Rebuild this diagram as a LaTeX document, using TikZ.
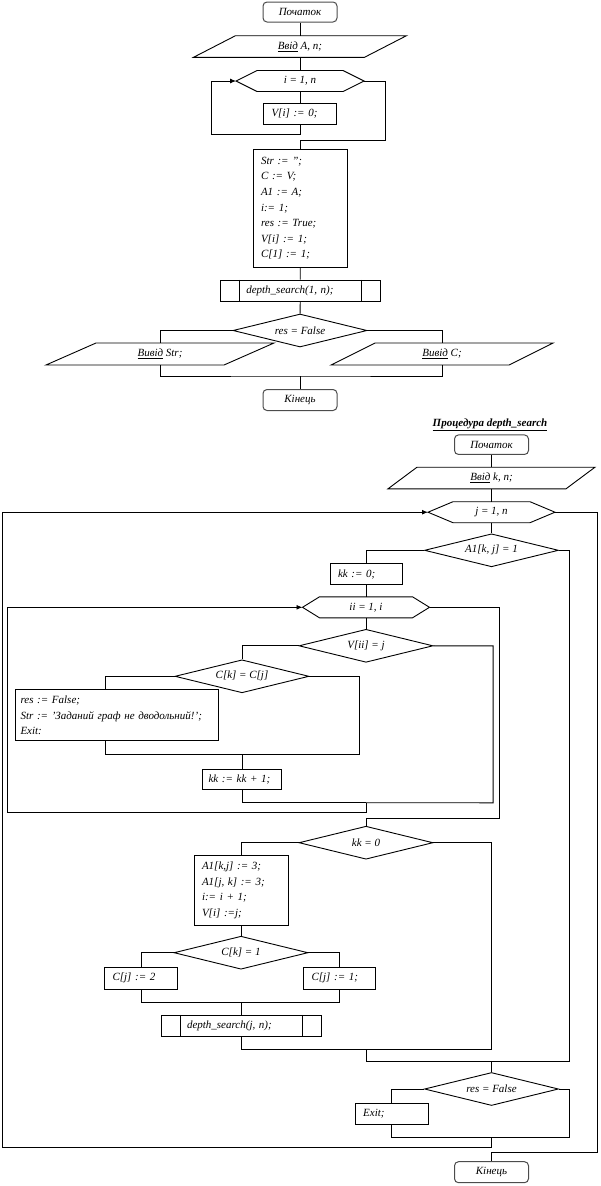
\documentclass[tikz,border=0pt]{standalone}
\usepackage{fontspec}
\setmainfont{Liberation Serif}
\usepackage{tikz}
\usetikzlibrary{positioning,shapes.geometric,arrows.meta,calc}

\newcommand{\chartfont}{\fontsize{11}{15.6}\selectfont\itshape}

\tikzset{
    flow/.style={draw, line width=0.9pt},
    arrow/.style={flow, -{Latex[length=6pt, width=5pt]}},
    term/.style={rectangle, draw=black!70, line width=1pt, rounded corners=4pt, minimum width=74pt, minimum height=20pt, inner sep=0pt, font=\chartfont},
    procbox/.style={rectangle, draw, line width=0.9pt, text width=#1, align=left, inner xsep=8pt, inner ysep=0pt, minimum height=21pt, font=\chartfont},
    callbox/.style={rectangle, draw, line width=0.9pt, minimum width=160pt, minimum height=21.7pt, inner ysep=0pt, inner xsep=26pt, text width=108pt, align=left, font=\chartfont,
        path picture={\draw[line width=0.9pt] ([xshift=19pt]path picture bounding box.north west) -- ([xshift=19pt]path picture bounding box.south west)
            ([xshift=-19pt]path picture bounding box.north east) -- ([xshift=-19pt]path picture bounding box.south east);}},
    cond/.style={diamond, draw, line width=0.9pt, aspect=4, minimum width=134pt, minimum height=33pt, inner sep=0pt, font=\chartfont},
    iobox/.style={rectangle, minimum width=#1, minimum height=21.6pt, inner sep=0pt, outer sep=0pt, font=\chartfont},
    loophead/.style={rectangle, minimum width=#1, minimum height=21pt, inner sep=0pt, outer sep=0pt, font=\chartfont}
}

% parallelogram round a node: name, half of the slant
\newcommand{\ioframe}[2]{%
  \draw[flow] ([xshift=#2]#1.north west) -- ([xshift=#2]#1.north east)
    -- ([xshift=-#2]#1.south east) -- ([xshift=-#2]#1.south west) -- cycle;}
% hexagon of a loop head: name, slant
\newcommand{\loopframe}[2]{%
  \draw[flow] ([xshift=-#2]#1.west) coordinate (#1-in) -- (#1.north west)
    -- (#1.north east) -- ([xshift=#2]#1.east) coordinate (#1-out)
    -- (#1.south east) -- (#1.south west) -- cycle;}

\begin{document}
\begin{tikzpicture}[x=1pt, y=-1pt]
\useasboundingbox (0,0) rectangle (600,1186);

% Main program
\node[term] (start1) at (300,12) {Початок};
\node[iobox=171pt] (in1) at (300,46.5) {\underline{Ввід} A, n;};
\ioframe{in1}{21pt}
\node[loophead=86pt] (loop1) at (300,81) {i = 1, n};
\loopframe{loop1}{21pt}
\node[procbox=57pt] (vset) at (300,113.5) {V[i] := 0;};
\node[procbox=78pt, minimum height=118pt] (init) at (300,208.3) {Str := '';\\C := V;\\A1 := A;\\i:= 1;\\res := True;\\V[i] := 1;\\C[1] := 1;};
\node[callbox] (call1) at (300.3,290.8) {depth\_search(1, n);};
\node[cond] (dec1) at (300,330.5) {res = False};
\node[iobox=178pt, minimum height=22pt] (out1) at (160,354) {\underline{Вивід} Str;};
\ioframe{out1}{25pt}
\node[iobox=178pt, minimum height=22pt] (out2) at (442,354) {\underline{Вивід} C;};
\ioframe{out2}{22pt}
\node[term, minimum height=21pt] (end1) at (300,400) {Кінець};
\coordinate (m2) at (300,376);

\draw[flow] (start1) -- (in1);
\draw[flow] (in1) -- (loop1);
\draw[flow] (loop1) -- (vset);
\draw[arrow] (vset.south) -- ++(0,10) -| ([xshift=-25pt]loop1-in) -- (loop1-in);
\draw[flow] (loop1-out) -| ++(21,59) -| (init.north);
\draw[flow] (init) -- (call1);
\draw[flow] (call1) -- (dec1);
\draw[flow] (dec1.west) -| (out1.north);
\draw[flow] (dec1.east) -| (out2.north);
\draw[flow] (out1.south) |- (m2) -| (out2.south);
\draw[flow] (m2) -- (end1);

% Procedure depth_search
\node[font=\chartfont\bfseries] (title) at (490,425) {\underline{Процедура depth\_search}};
\node[term, minimum height=19.5pt] (start2) at (491.5,444.7) {Початок};
\node[iobox=178pt] (in2) at (491.5,478) {\underline{Ввід} k, n;};
\ioframe{in2}{14.5pt}
\node[loophead=77pt] (loop2) at (491.5,512.2) {j = 1, n};
\loopframe{loop2}{25pt}
\node[cond] (dec2) at (491.5,550.3) {A1[k, j] = 1};
\node[procbox=56pt] (kk0) at (366,574.2) {kk := 0;};
\node[loophead=93pt] (loop3) at (366,607.3) {ii = 1, i};
\loopframe{loop3}{17pt}
\node[cond] (dec3) at (366,645.8) {V[ii] = j};
\node[cond] (dec4) at (242,676.3) {C[k] = C[j]};
\node[procbox=193pt, inner xsep=5pt, minimum height=51pt] (blk2) at (117,715.3) {res := False;\\Str := 'Заданий граф не дводольний!';\\Exit:};
\node[procbox=67pt, inner xsep=6pt, minimum height=20pt] (kk1) at (242,779.3) {kk := kk + 1;};
\node[cond] (dec5) at (366,842.7) {kk = 0};
\node[procbox=78pt, minimum height=70pt] (blk3) at (241,890.2) {A1[k,j] := 3;\\A1[j, k] := 3;\\i:= i + 1;\\V[i] :=j;};
\node[cond] (dec6) at (241,952.7) {C[k] = 1};
\node[procbox=57pt, minimum height=22pt] (c2) at (141,978.3) {C[j] := 2};
\node[procbox=56pt, minimum height=22pt] (c1) at (339.5,978) {C[j] := 1;};
\node[callbox] (call2) at (241,1025.8) {depth\_search(j, n);};
\node[cond] (dec7) at (491.5,1089) {res = False};
\node[procbox=57pt] (exitbox) at (391.7,1113.7) {Exit;};
\node[term, minimum height=21pt] (end2) at (491.5,1172.2) {Кінець};

\coordinate (m3) at (366,802.7);
\coordinate (m4) at (242,754);
\coordinate (m6) at (241,1002.3);
\coordinate (m7) at (366,1049.3);
\coordinate (m8) at (491.5,1061);
\coordinate (m9) at (491.5,1137.7);

\draw[flow] (start2) -- (in2);
\draw[flow] (in2) -- (loop2);
\draw[flow] (loop2) -- (dec2);
\draw[flow] (dec2.west) -| (kk0.north);
\draw[flow] (kk0) -- (loop3);
\draw[flow] (loop3) -- (dec3);
\draw[flow] (dec3.west) -| (dec4.north);
\draw[flow] (dec4.west) -| ([xshift=-11.7pt]blk2.north);
\draw[flow] ([xshift=-11.7pt]blk2.south) |- (m4) -| ([xshift=50pt]dec4.east) -- (dec4.east);
\draw[flow] (m4) -- (kk1);
\draw[flow] (kk1.south) |- (m3);
\draw[flow] (dec3.east) -| ++(59.7,157) -- (m3);
\draw[arrow] (m3) -- ++(0,9.6) -| ([xshift=-295pt]loop3-in) -- (loop3-in);
\draw[flow] (loop3-out) -| ++(70,211) -| (dec5.north);
\draw[flow] (dec5.west) -| (blk3.north);
\draw[flow] (blk3) -- (dec6);
\draw[flow] (dec6.west) -| (c2.north);
\draw[flow] (dec6.east) -| (c1.north);
\draw[flow] (c2.south) |- (m6) -| (c1.south);
\draw[flow] (m6) -- (call2);
\draw[flow] (call2.south) |- (m7);
\draw[flow] (dec5.east) -| ++(58,206.6) -- (m7);
\draw[flow] (m7) |- (m8);
\draw[flow] (dec2.east) -| ++(10,510.7) -- (m8);
\draw[flow] (m8) -- (dec7);
\draw[flow] (dec7.west) -| (exitbox.north);
\draw[flow] (exitbox.south) |- (m9);
\draw[flow] (dec7.east) -| ++(10,48.7) -- (m9);
\draw[arrow] (m9) -- ++(0,10) -| ([xshift=-426pt]loop2-in) -- (loop2-in);
\draw[flow] (loop2-out) -| ++(42.7,640.5) -| (end2.north);

\end{tikzpicture}
\end{document}
